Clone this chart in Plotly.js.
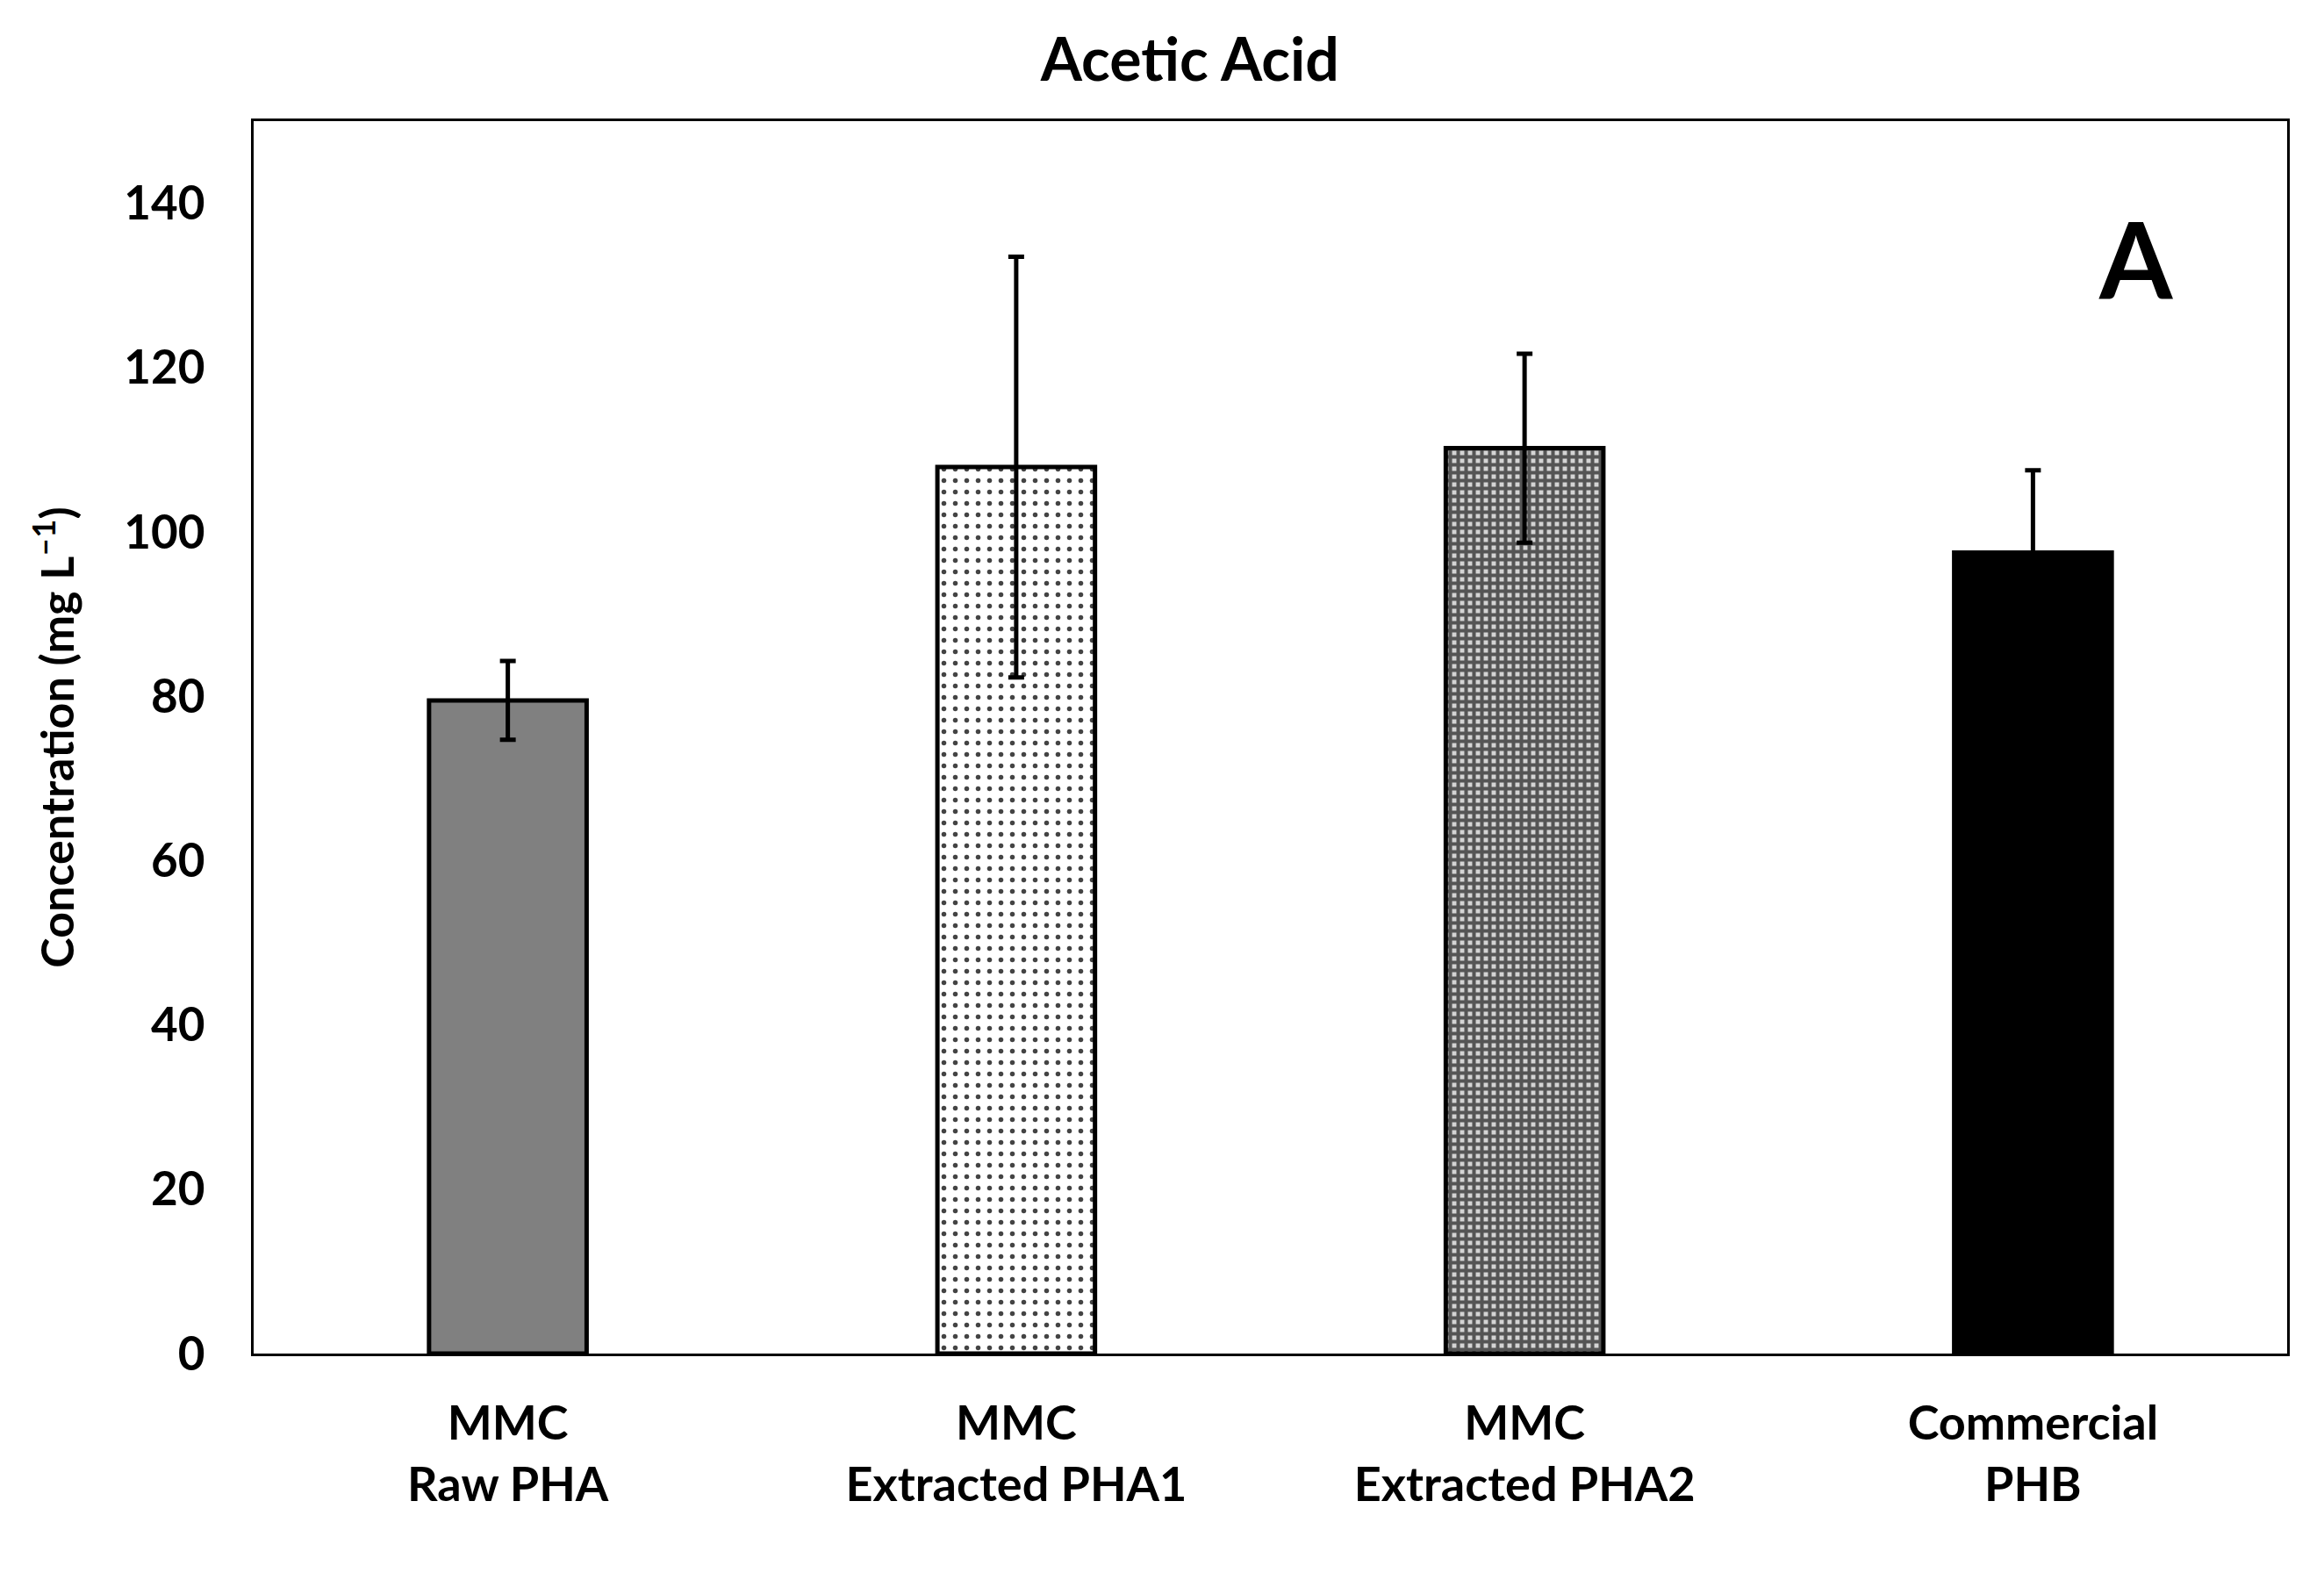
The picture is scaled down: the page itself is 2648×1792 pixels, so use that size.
<!DOCTYPE html>
<html><head><meta charset="utf-8">
<script src="https://cdn.plot.ly/plotly-3.0.1.min.js"></script>
<style>html,body{margin:0;padding:0;background:#fff}</style>
</head><body>
<div id="chart" style="width:2648px;height:1792px"></div>
<script>
const categories = ["MMC<br>Raw PHA", "MMC<br>Extracted PHA1", "MMC<br>Extracted PHA2", "Commercial<br>PHB"];
const values = [79.5, 107.9, 110.2, 97.5];
const errors = [4.8, 25.6, 11.5, 10.0];
const yTicks = [0, 20, 40, 60, 80, 100, 120, 140];

const F = "Lato, 'Open Sans', sans-serif";
const fills = [
  {color: "#808080"},
  {color: "#ffffff", pattern: {shape: ".", fgcolor: "#444444", bgcolor: "#ffffff", size: 13, solidity: 0.14, fillmode: "replace"}},
  {color: "#b0b0b0", pattern: {shape: "+", fgcolor: "#555555", bgcolor: "#d4d4d4", size: 9, solidity: 0.7, fillmode: "replace"}},
  {color: "#000000"}
];
const traces = categories.map((c, i) => ({
  type: "bar",
  x: [c],
  y: [values[i]],
  width: 0.31,
  marker: Object.assign({line: {color: "#000", width: 5}}, fills[i]),
  error_y: {type: "data", array: [errors[i]], visible: true, color: "#000", thickness: 5, width: 9}
}));

const layout = {
  width: 2648, height: 1792,
  paper_bgcolor: "#fff", plot_bgcolor: "#fff",
  margin: {l: 289, r: 42, t: 138, b: 250},
  showlegend: false,
  barmode: "overlay",
  title: {text: "<b>Acetic Acid</b>", font: {family: F, size: 68, color: "#000"}, x: 0.512, xanchor: "center", y: 0.962, yanchor: "middle"},
  xaxis: {
    range: [-0.5, 3.5],
    categoryorder: "array", categoryarray: categories,
    showline: true, linecolor: "#000", linewidth: 3, mirror: true,
    ticks: "", showgrid: false, zeroline: false,
    tickfont: {family: F, size: 54, color: "#000", weight: "bold"},
    ticklabelstandoff: 30
  },
  yaxis: {
    range: [0, 150],
    tickvals: yTicks,
    ticktext: yTicks.map(String),
    showline: true, linecolor: "#000", linewidth: 3, mirror: true,
    ticks: "", showgrid: false, zeroline: false,
    tickfont: {family: F, size: 53, color: "#000", weight: "bold"},
    ticklabelstandoff: 42,
    title: {text: "<b>Concentration (mg L<sup>–1</sup>)</b>", font: {family: F, size: 52, color: "#000"}, standoff: 40}
  },
  annotations: [{
    xref: "paper", yref: "paper", x: 0.9255, y: 0.888,
    xanchor: "center", yanchor: "middle",
    text: "<b>A</b>", showarrow: false,
    font: {family: F, size: 120, color: "#000"}
  }]
};
Plotly.newPlot("chart", traces, layout, {displayModeBar: false, staticPlot: true});
</script>
</body></html>
